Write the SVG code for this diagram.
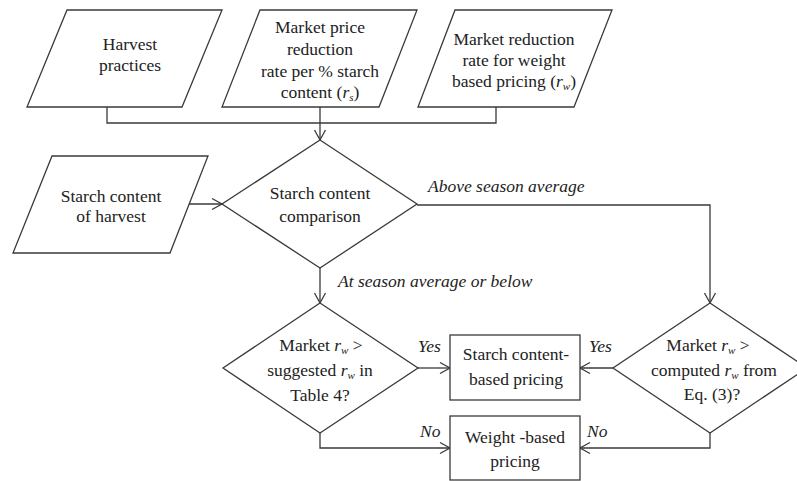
<svg xmlns="http://www.w3.org/2000/svg" width="797" height="481" viewBox="0 0 797 481">
<defs>
<style>
.shape{fill:#fff;stroke:#3a3a3a;stroke-width:1.3}
.line{fill:none;stroke:#3a3a3a;stroke-width:1.3}
text{font-family:"Liberation Serif","Times New Roman",serif;font-size:17.5px;fill:#222;text-anchor:middle}
.lbl{font-style:italic;text-anchor:start;font-size:17.5px}
.i{font-style:italic}
.sub{font-style:italic;font-size:11px}
</style>
<marker id="arr" markerUnits="userSpaceOnUse" markerWidth="14" markerHeight="14" viewBox="-12 -7 14 14" refX="0" refY="0" orient="auto" overflow="visible">
<path d="M-10,-5.5 L0,0 L-10,5.5" fill="none" stroke="#3a3a3a" stroke-width="1.3"/>
</marker>
</defs>
<rect width="797" height="481" fill="#fff"/>

<g id="connectors">
<path class="line" d="M107,107 V123 H496 V107"/>
<path class="line" d="M320,107 V140" marker-end="url(#arr)"/>
<path class="line" d="M189,204 H222" marker-end="url(#arr)"/>
<path class="line" d="M417,205 H710 V303" marker-end="url(#arr)"/>
<path class="line" d="M320,268 V303" marker-end="url(#arr)"/>
<path class="line" d="M418,368 H450" marker-end="url(#arr)"/>
<path class="line" d="M320,433 V448 H450" marker-end="url(#arr)"/>
<path class="line" d="M613,368 H580" marker-end="url(#arr)"/>
<path class="line" d="M710,433 V448 H580" marker-end="url(#arr)"/>
<text class="lbl" x="428" y="192">Above season average</text>
<text class="lbl" x="338" y="287">At season average or below</text>
<text class="lbl" x="418" y="352">Yes</text>
<text class="lbl" x="420" y="437">No</text>
<text class="lbl" x="589" y="352">Yes</text>
<text class="lbl" x="587" y="437">No</text>
</g>

<g id="harvest-practices">
<polygon class="shape" points="67,10 222,10 182,107 27,107"/>
<text x="130" y="50">Harvest</text>
<text x="130" y="71">practices</text>
</g>

<g id="market-price-reduction">
<polygon class="shape" points="260,10 417,10 379,107 222,107"/>
<text x="320" y="33">Market price</text>
<text x="320" y="55">reduction</text>
<text x="320" y="77">rate per % starch</text>
<text x="320" y="98">content (<tspan class="i">r</tspan><tspan class="sub" dy="3">s</tspan><tspan dy="-3">)</tspan></text>
</g>

<g id="market-reduction-weight">
<polygon class="shape" points="455,10 612,10 574,107 418,107"/>
<text x="514" y="45">Market reduction</text>
<text x="514" y="66">rate for weight</text>
<text x="514" y="87">based pricing (<tspan class="i">r</tspan><tspan class="sub" dy="3">w</tspan><tspan dy="-3">)</tspan></text>
</g>

<g id="starch-content-harvest">
<polygon class="shape" points="52,156 208,156 170,253 13,253"/>
<text x="111" y="202">Starch content</text>
<text x="111" y="222">of harvest</text>
</g>

<g id="starch-comparison">
<polygon class="shape" points="320,140 417,204 320,268 222,204"/>
<text x="320" y="199">Starch content</text>
<text x="320" y="222">comparison</text>
</g>

<g id="decision-table4">
<polygon class="shape" points="320,303 418,368 320,433 223,368"/>
<text x="321" y="351">Market <tspan class="i">r</tspan><tspan class="sub" dy="3">w</tspan><tspan dy="-3"> &gt;</tspan></text>
<text x="320" y="376">suggested <tspan class="i">r</tspan><tspan class="sub" dy="3">w</tspan><tspan dy="-3"> in</tspan></text>
<text x="320" y="401">Table 4?</text>
</g>

<g id="decision-eq3">
<polygon class="shape" points="710,303 807,368 710,433 613,368"/>
<text x="708" y="351">Market <tspan class="i">r</tspan><tspan class="sub" dy="3">w</tspan><tspan dy="-3"> &gt;</tspan></text>
<text x="714" y="376">computed <tspan class="i">r</tspan><tspan class="sub" dy="3">w</tspan><tspan dy="-3"> from</tspan></text>
<text x="712" y="400">Eq. (3)?</text>
</g>

<g id="starch-based-pricing">
<rect class="shape" x="450" y="335" width="130" height="65"/>
<text x="516" y="360">Starch content-</text>
<text x="516" y="385">based pricing</text>
</g>

<g id="weight-based-pricing">
<rect class="shape" x="450" y="416" width="130" height="64"/>
<text x="515" y="443">Weight -based</text>
<text x="515" y="467">pricing</text>
</g>
</svg>
